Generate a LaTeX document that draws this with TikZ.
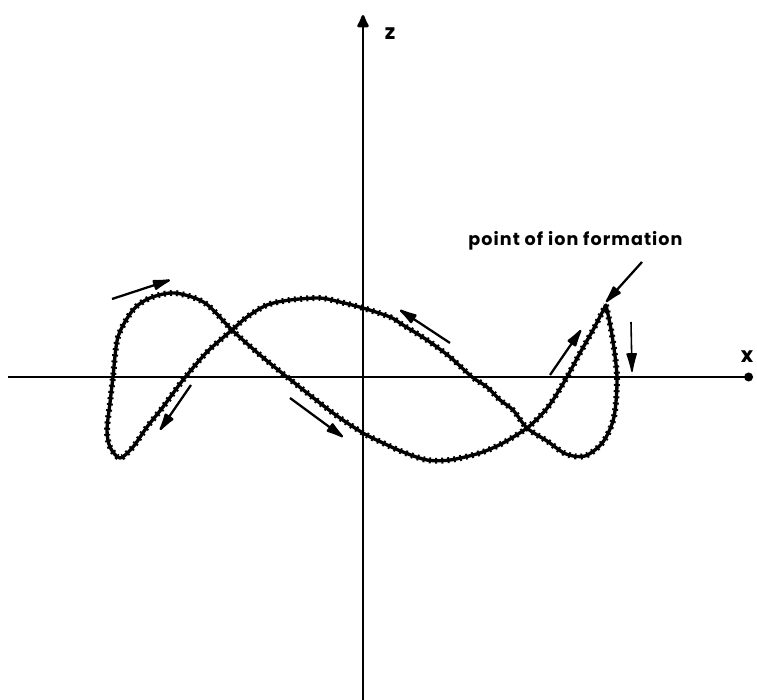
\documentclass[tikz,border=0pt]{standalone}
\usepackage{fontspec}
\newfontfamily\lblfont{Poppins}[LetterSpace=6]
\usetikzlibrary{arrows.meta}
\begin{document}
\begin{tikzpicture}[>=Latex,
 ax/.style={line width=1.6pt},
 traj/.style={line width=1.9pt,line cap=round,line join=round},
 bump/.style={line width=3.4pt,dash pattern=on 1.1pt off 2.4pt},
 a/.style={-{Latex[length=13pt,width=6.5pt,round]},line width=1.3pt},
 lbl/.style={font=\lblfont\bfseries\fontsize{10}{12}\selectfont},
 axl/.style={font=\lblfont\bfseries\fontsize{12}{14}\selectfont}]
\useasboundingbox (-7.26,-6.46) rectangle (7.88,7.54);
\coordinate (xl) at (-7.10,0); \coordinate (xr) at (7.80,0);
\coordinate (zb) at (0,-6.46); \coordinate (zt) at (0,7.24);
\draw[ax,-{Circle[length=5pt]}] (xl)--(xr);
\draw[ax,-{Latex[length=9pt,width=8pt,round]}] (zb)--(zt);
\node[axl] (zlab) at (0.54,6.86) {z};
\node[axl] (xlab) at (7.68,0.40) {x};
\foreach \s in {traj,bump}
\draw[\s] plot[smooth] coordinates {(4.86,1.44) (4.98,0.84) (5.08,0)
  (5.02,-0.80) (4.80,-1.30) (4.44,-1.58) (4.06,-1.54) (3.68,-1.28)
  (3.28,-1.02) (3.00,-0.66) (2.74,-0.46) (2.48,-0.20) (2.18,0)
  (1.74,0.40) (1.28,0.74) (0.80,1.04) (0.54,1.20) (0,1.38) (-0.46,1.50)
  (-0.86,1.58) (-1.46,1.54) (-1.92,1.44) (-2.32,1.20) (-2.62,0.94)
  (-3.12,0.50) (-3.60,-0.06) (-4.00,-0.60) (-4.32,-1.00) (-4.60,-1.40)
  (-4.86,-1.62) (-5.06,-1.40) (-5.12,-1.06) (-5.06,-0.52) (-5.00,0)
  (-4.90,0.80) (-4.60,1.34) (-4.26,1.58) (-3.76,1.68) (-3.16,1.48)
  (-2.62,0.94) (-2.06,0.44) (-1.52,0) (-0.60,-0.72) (0,-1.12)
  (0.40,-1.32) (0.80,-1.50) (1.28,-1.66) (1.74,-1.66) (2.34,-1.52)
  (2.80,-1.32) (3.28,-1.02) (3.60,-0.72) (3.80,-0.46) (4.08,0)
  (4.34,0.48) (4.60,0.94) (4.86,1.44)};
\node[lbl] (ion) at (4.25,2.72) {point of ion formation};
\coordinate (ptr) at (5.58,2.30); \coordinate (ionpt) at (4.86,1.50);
\draw[a] (ptr)--(ionpt);
\coordinate (a1s) at (-5.02,1.56); \coordinate (a1e) at (-3.86,1.94);
\coordinate (a2s) at (-3.44,-0.16); \coordinate (a2e) at (-4.06,-1.06);
\coordinate (a3s) at (-1.46,-0.42); \coordinate (a3e) at (-0.40,-1.20);
\coordinate (a4s) at (1.74,0.68); \coordinate (a4e) at (0.74,1.34);
\coordinate (a5s) at (3.74,0.04); \coordinate (a5e) at (4.36,0.94);
\coordinate (a6s) at (5.36,1.10); \coordinate (a6e) at (5.38,0.10);
\draw[a] (a1s)--(a1e); \draw[a] (a2s)--(a2e); \draw[a] (a3s)--(a3e);
\draw[a] (a4s)--(a4e); \draw[a] (a5s)--(a5e);
\draw[a,line width=.9pt] (a6s)--(a6e);
\end{tikzpicture}
\end{document}
